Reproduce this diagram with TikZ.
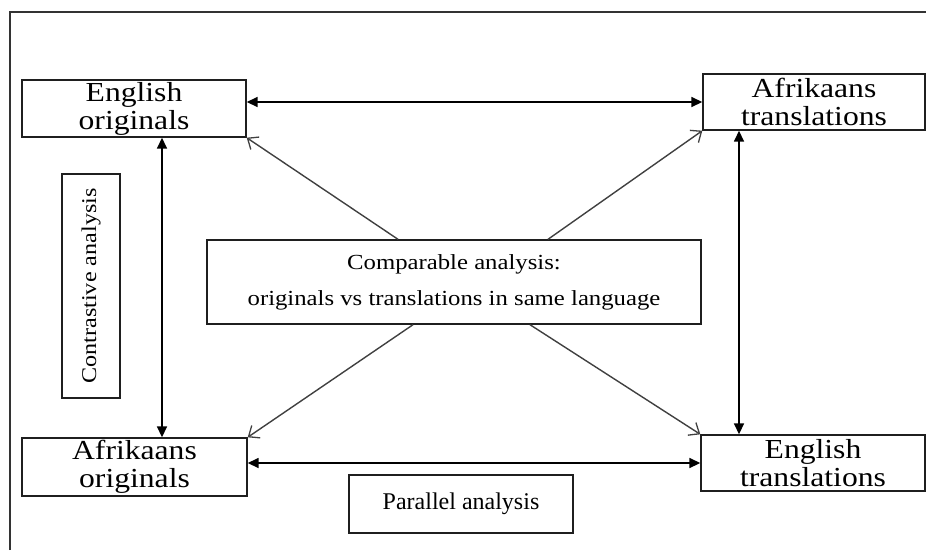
\documentclass[tikz,border=0pt]{standalone}
\usepackage{fontspec}
\setmainfont{Liberation Serif}
\newfontfamily\cam[FakeStretch=1.15]{Liberation Serif}
\usetikzlibrary{arrows.meta}
\begin{document}
\begin{tikzpicture}[x=1pt,y=-1pt,
 box/.style={draw=black!88, line width=1.4pt, inner sep=0pt, align=center, text=black},
 big/.style={font=\cam\fontsize{27.5}{28}\selectfont},
 dbl/.style={{Triangle[length=11pt,width=10pt]}-{Triangle[length=11pt,width=10pt]}, line width=1.6pt},
 diag/.style={-{Straight Barb[length=9pt,width=15pt,line width=1.3pt]}, line width=1.4pt, draw=black!75}
]
\useasboundingbox (0,0) rectangle (926,550);
\draw[line width=1.4pt, black!80] (10,550) -- (10,12) -- (926,12);

\node[box,big,minimum width=224pt,minimum height=57pt] (EO) at (134,108.5) {English\\originals};
\node[box,big,minimum width=222pt,minimum height=56pt] (AT) at (814,102) {Afrikaans\\translations};
\node[box,big,minimum width=225pt,minimum height=58pt] (AO) at (134.5,467) {Afrikaans\\originals};
\node[box,big,minimum width=224pt,minimum height=56pt] (ET) at (813,463) {English\\translations};
\node[box,minimum width=224pt,minimum height=58pt,font=\fontsize{24}{28}\selectfont] (PA) at (461,504) {Parallel analysis};
\node[box,minimum width=494pt,minimum height=84pt,font=\cam\fontsize{21.5}{36}\selectfont] (CA) at (454,282) {Comparable analysis:\\originals vs translations in same language};
\node[box,rotate=90,minimum width=224pt,minimum height=58pt,font=\cam\fontsize{21}{24}\selectfont] (CO) at (91,286) {Contrastive analysis};

\draw[dbl] (EO.east |- AT.west) -- (AT.west);
\draw[dbl] (AO.east |- ET.west) -- (ET.west);
\draw[dbl] ([xshift=28pt]EO.south) -- ([xshift=27.5pt]AO.north);
\draw[dbl] ([xshift=-75pt]AT.south) -- ([xshift=-74pt]ET.north);

\draw[diag] ([xshift=-56pt]CA.north) -- (EO.south east);
\draw[diag] ([xshift=94pt]CA.north) -- (AT.south west);
\draw[diag] ([xshift=-41pt]CA.south) -- (AO.north east);
\draw[diag] ([xshift=76pt]CA.south) -- (ET.north west);
\end{tikzpicture}
\end{document}
